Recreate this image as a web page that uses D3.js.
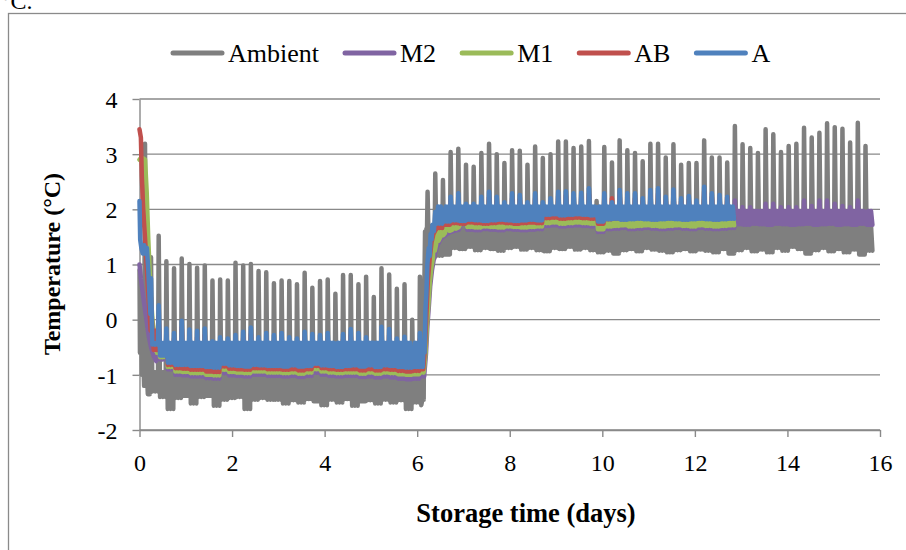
<!DOCTYPE html>
<html>
<head>
<meta charset="utf-8">
<script src="https://cdn.jsdelivr.net/npm/d3@7"></script>
<style>
  html, body { margin: 0; padding: 0; background: #fff; overflow: hidden; }
  text { font-family: "Liberation Serif", "Times New Roman", serif; fill: #000; }
</style>
</head>
<body>
<svg id="chart" width="906" height="550"></svg>
<script>
// ---------------- data ----------------
const seriesNames  = ["Ambient", "M2", "M1", "AB", "A"];
const seriesColors = ["#7f7f7f", "#8064a2", "#9bbb59", "#c0504d", "#4f81bd"];
const xTicks = [0, 2, 4, 6, 8, 10, 12, 14, 16];
const yTicks = [-2, -1, 0, 1, 2, 3, 4];

// logger cycles: one defrost peak every 4 h, first one at 0.2485 d
const cycleFirst = 0.2485;
const cycleDays  = 0.166;
const stepCycle  = 36;          // first cycle after the set-point change

// Ambient: per-cycle defrost peak and compressor low (°C)
const ambientPeak = [
  1.13, 1.52, 1.06, 0.93, 1.11, 1.01, 0.94, 0.98, 0.71, 0.73,
  0.71, 1.03, 0.98, 1.01, 0.88, 0.86, 0.66, 0.71, 0.70, 0.64,
  0.85, 0.58, 0.70, 0.73, 0.47, 0.81, 0.81, 0.64, 0.78, 0.41,
  0.93, 0.82, 0.56, 0.64, 0.00, 0.78, 2.32, 2.65, 2.53, 3.04,
  3.10, 2.81, 2.77, 3.02, 3.19, 3.00, 2.84, 3.07, 3.06, 2.81,
  3.14, 2.93, 3.00, 3.23, 3.23, 3.11, 3.14, 3.24, 2.15, 3.13,
  2.85, 3.25, 3.07, 3.02, 2.87, 3.19, 3.19, 2.94, 3.18, 2.81,
  2.84, 2.84, 3.25, 2.94, 2.94, 2.85, 3.51, 3.18, 3.11, 3.02,
  3.45, 3.36, 3.04, 3.15, 3.19, 3.48, 3.30, 3.39, 3.56, 3.49,
  3.46, 3.21, 3.57, 3.15
];
const ambientLow = [
  -1.30, -1.40, -1.62, -1.42, -1.38, -1.52, -1.40, -1.38, -1.56, -1.45,
  -1.42, -1.40, -1.62, -1.45, -1.42, -1.45, -1.45, -1.52, -1.46, -1.50,
  -1.44, -1.48, -1.55, -1.45, -1.50, -1.44, -1.56, -1.48, -1.46, -1.52,
  -1.45, -1.50, -1.46, -1.62, -1.50, -1.55, 1.12, 1.16, 1.18, 1.30,
  1.28, 1.32, 1.26, 1.30, 1.28, 1.25, 1.30, 1.32, 1.27, 1.30,
  1.26, 1.24, 1.30, 1.28, 1.32, 1.27, 1.30, 1.26, 1.22, 1.25,
  1.20, 1.26, 1.28, 1.24, 1.30, 1.27, 1.25, 1.22, 1.26, 1.28,
  1.24, 1.27, 1.25, 1.22, 1.28, 1.20, 1.26, 1.30, 1.24, 1.27,
  1.22, 1.30, 1.25, 1.32, 1.28, 1.20, 1.26, 1.30, 1.24, 1.28,
  1.22, 1.27, 1.18, 1.25
];
const ambientBand = [-0.95, 1.70];   // top of compressor swing (before / after change)
const ambientLead = [[0, 0.9], [0.01, -0.6], [0.03, 0.5], [0.05, -1.0], [0.08, -0.6], [0.10, -1.2],
                     [0.119, 3.19], [0.14, -1.2], [0.16, -0.95], [0.18, -1.35], [0.20, -0.95], [0.22, -1.35]];
const ambientStep = [[6.10, -1.50], [6.12, -0.95], [6.14, -1.45], [6.155, 0.6], [6.17, 1.6],
                     [6.185, 1.3], [6.20, 1.65], [6.21, 1.5]];

// M2
const m2Peak = [
  0.10, -0.20, -0.42, -0.46, -0.32, -0.44, -0.46, -0.42, -0.58, -0.54,
  -0.56, -0.50, -0.46, -0.40, -0.54, -0.48, -0.50, -0.48, -0.54, -0.56,
  -0.46, -0.48, -0.50, -0.48, -0.62, -0.48, -0.42, -0.48, -0.54, -0.60,
  -0.40, -0.42, -0.56, -0.54, -0.70, -0.48, null, null, null, null,
  null, 1.95, 1.95, 2.05, 2.10, 2.02, 1.98, 2.08, 2.06, 1.98,
  2.08, 1.98, 2.02, 2.10, 2.10, 2.08, 2.10, 2.14, 1.90, 2.08,
  2.00, 2.12, 2.08, 2.08, 2.02, 2.12, 2.14, 2.04, 2.14, 2.02,
  2.06, 2.00, 2.18, 2.10, 2.08, 2.06, 2.16, 2.04, 2.04, 1.97,
  2.10, 2.10, 2.04, 2.04, 2.04, 2.16, 2.06, 2.16, 2.16, 2.10,
  2.06, 2.04, 2.16, 1.95
];
const m2Low = [
  -0.60, -0.72, -0.90, -1.00, -1.01, -1.03, -1.03, -1.06, -1.07, -0.97,
  -1.01, -1.02, -1.03, -1.00, -1.00, -1.02, -1.02, -1.03, -1.02, -1.04,
  -1.02, -0.96, -1.00, -1.02, -1.03, -1.02, -1.02, -1.04, -1.03, -1.05,
  -1.03, -1.05, -1.07, -1.08, -1.07, -1.03, null, null, null, null,
  null, 1.63, 1.62, 1.64, 1.63, 1.62, 1.64, 1.63, 1.62, 1.63,
  1.64, 1.70, 1.71, 1.69, 1.70, 1.71, 1.70, 1.69, 1.59, 1.64,
  1.65, 1.66, 1.64, 1.65, 1.66, 1.65, 1.64, 1.65, 1.66, 1.65,
  1.64, 1.66, 1.65, 1.64, 1.65, 1.66, 1.73, 1.72, 1.74, 1.73,
  1.72, 1.74, 1.73, 1.72, 1.73, 1.74, 1.72, 1.73, 1.74, 1.72,
  1.73, 1.72, 1.74, 1.72
];
const m2Band = [-0.65, 1.97];
const m2Lead = [[0, 1.0], [0.03, 0.75], [0.06, 0.55], [0.10, 0.3], [0.15, 0.0], [0.20, -0.3],
                [0.25, -0.5], [0.30, -0.65], [0.36, -0.75]];
const m2Step = [[6.15, -1.03], [6.19, -0.62], [6.22, -0.12], [6.25, 0.22], [6.28, 0.60], [6.32, 0.90],
                [6.36, 1.10], [6.40, 1.25], [6.45, 1.37], [6.50, 1.45], [6.56, 1.50], [6.62, 1.54],
                [6.70, 1.58], [6.80, 1.61], [6.90, 1.63]];

// M1
const m1Peak = [
  0.20, -0.10, -0.35, -0.40, -0.25, -0.38, -0.40, -0.36, -0.52, -0.48,
  -0.50, -0.44, -0.40, -0.34, -0.48, -0.42, -0.45, -0.42, -0.48, -0.50,
  -0.40, -0.42, -0.45, -0.42, -0.58, -0.42, -0.36, -0.42, -0.48, -0.56,
  -0.34, -0.36, -0.50, -0.48, -0.66, -0.42, null, null, null, null,
  null, 1.98, 1.98, 2.08, 2.15, 2.08, 2.00, 2.12, 2.10, 2.00,
  2.12, 2.00, 2.06, 2.15, 2.16, 2.12, 2.14, 2.20, 1.92, 2.12,
  2.02, 2.18, 2.12, 2.12, 2.06, 2.18, 2.20, 2.08, 2.20, 2.06,
  2.10, 2.02, 2.24, 2.12, 2.10, 2.08
];
const m1Low = [
  -0.55, -0.68, -0.86, -0.94, -0.95, -0.97, -0.97, -1.00, -1.01, -0.91,
  -0.95, -0.96, -0.97, -0.94, -0.94, -0.96, -0.96, -0.97, -0.96, -0.98,
  -0.96, -0.90, -0.94, -0.96, -0.97, -0.96, -0.96, -0.98, -0.96, -0.98,
  -0.96, -0.97, -0.99, -1.00, -0.99, -0.96, null, null, null, null,
  null, 1.68, 1.67, 1.69, 1.68, 1.67, 1.69, 1.68, 1.67, 1.68,
  1.69, 1.75, 1.76, 1.74, 1.75, 1.76, 1.75, 1.74, 1.64, 1.69,
  1.70, 1.71, 1.69, 1.70, 1.71, 1.70, 1.69, 1.70, 1.71, 1.70,
  1.69, 1.71, 1.70, 1.69, 1.70, 1.71
];
const m1Band = [-0.60, 1.90];
const m1Lead = [[0, 2.90], [0.03, 2.93], [0.07, 2.93], [0.12, 2.90], [0.155, 2.32], [0.19, 1.45],
                [0.24, 0.50], [0.28, 0.00], [0.33, -0.35], [0.38, -0.60]];
const m1Step = [[6.14, -0.96], [6.18, -0.60], [6.21, -0.10], [6.24, 0.25], [6.27, 0.65], [6.30, 0.90],
                [6.34, 1.12], [6.36, 1.60], [6.38, 1.25], [6.41, 1.37], [6.43, 1.70], [6.46, 1.43],
                [6.50, 1.50], [6.53, 1.75], [6.56, 1.53], [6.60, 1.57], [6.66, 1.80], [6.70, 1.61],
                [6.76, 1.63], [6.80, 1.85], [6.84, 1.65], [6.90, 1.68]];

// AB
const abPeak = [
  0.40, 0.05, -0.28, -0.34, -0.14, -0.30, -0.32, -0.28, -0.48, -0.42,
  -0.44, -0.38, -0.33, -0.26, -0.42, -0.35, -0.38, -0.35, -0.42, -0.44,
  -0.33, -0.36, -0.38, -0.35, -0.52, -0.36, -0.28, -0.35, -0.42, -0.50,
  -0.25, -0.28, -0.44, -0.41, -0.60, -0.35, null, 1.90, 1.92, 2.15,
  2.20, 2.05, 2.05, 2.15, 2.22, 2.15, 2.08, 2.20, 2.18, 2.08,
  2.20, 2.08, 2.14, 2.24, 2.25, 2.20, 2.22, 2.28, 2.00, 2.20,
  2.20, 2.26, 2.20, 2.20, 2.14, 2.26, 2.28, 2.16, 2.27, 2.14,
  2.17, 2.10, 2.32, 2.22, 2.20, 2.22
];
const abLow = [
  -0.20, -0.60, -0.82, -0.88, -0.89, -0.91, -0.91, -0.94, -0.95, -0.85,
  -0.89, -0.90, -0.91, -0.88, -0.88, -0.90, -0.90, -0.91, -0.90, -0.92,
  -0.90, -0.84, -0.88, -0.90, -0.91, -0.90, -0.90, -0.92, -0.90, -0.92,
  -0.90, -0.91, -0.93, -0.94, -0.93, -0.90, null, 1.66, 1.72, 1.75,
  1.74, 1.76, 1.75, 1.74, 1.75, 1.76, 1.75, 1.74, 1.75, 1.76,
  1.75, 1.84, 1.85, 1.83, 1.84, 1.85, 1.84, 1.83, 1.74, 1.82,
  1.83, 1.82, 1.83, 1.84, 1.83, 1.82, 1.83, 1.84, 1.83, 1.82,
  1.83, 1.84, 1.83, 1.82, 1.83, 1.84
];
const abBand = [-0.55, 1.95];
const abLead = [[0, 3.45], [0.03, 3.30], [0.05, 2.60], [0.08, 2.00], [0.11, 1.60], [0.14, 1.20],
                [0.18, 0.60], [0.22, 0.10], [0.24, -0.20]];
const abStep = [[6.13, -0.90], [6.17, -0.50], [6.20, 0.10], [6.23, 0.70], [6.27, 1.10], [6.31, 1.40],
                [6.35, 1.55], [6.40, 1.63], [6.45, 1.68]];

// A
const aPeak = [
  0.75, 0.26, -0.16, -0.24, -0.02, -0.18, -0.20, -0.16, -0.39, -0.32,
  -0.34, -0.28, -0.22, -0.14, -0.32, -0.24, -0.28, -0.24, -0.32, -0.34,
  -0.22, -0.26, -0.28, -0.24, -0.43, -0.26, -0.17, -0.24, -0.32, -0.42,
  -0.13, -0.17, -0.34, -0.31, -0.52, -0.24, null, 1.95, 1.98, 2.23,
  2.29, 2.10, 2.10, 2.23, 2.32, 2.23, 2.13, 2.29, 2.26, 2.13,
  2.29, 2.13, 2.20, 2.32, 2.33, 2.29, 2.30, 2.38, 2.04, 2.29,
  2.13, 2.35, 2.29, 2.29, 2.20, 2.35, 2.38, 2.23, 2.36, 2.20,
  2.24, 2.16, 2.41, 2.29, 2.26, 2.23
];
const aLow = [
  -0.45, -0.65, -0.78, -0.82, -0.82, -0.84, -0.84, -0.86, -0.87, -0.80,
  -0.83, -0.84, -0.85, -0.82, -0.83, -0.84, -0.84, -0.85, -0.83, -0.85,
  -0.84, -0.80, -0.83, -0.84, -0.86, -0.84, -0.83, -0.85, -0.83, -0.86,
  -0.83, -0.84, -0.86, -0.87, -0.86, -0.84, null, 1.74, 1.78, 1.80,
  1.79, 1.81, 1.80, 1.79, 1.80, 1.81, 1.80, 1.79, 1.80, 1.81,
  1.80, 1.90, 1.91, 1.89, 1.90, 1.91, 1.90, 1.89, 1.78, 1.82,
  1.83, 1.81, 1.82, 1.83, 1.82, 1.81, 1.82, 1.83, 1.82, 1.81,
  1.82, 1.83, 1.82, 1.81, 1.82, 1.83
];
const aBand = [-0.42, 2.05];
const aLead = [[0, 2.15], [0.015, 1.45], [0.04, 1.30], [0.07, 1.20], [0.10, 1.35], [0.13, 1.20],
               [0.16, 1.30], [0.19, 0.90], [0.215, 0.45], [0.235, 0.10]];
const aStep = [[6.12, -0.86], [6.14, -0.40], [6.16, -0.60], [6.18, 0.20], [6.20, 0.50], [6.22, 1.00],
               [6.25, 1.30], [6.27, 1.15], [6.29, 1.55], [6.31, 1.45], [6.33, 1.72], [6.36, 1.60]];

// ---------------- build series ----------------
// within each 4-h cycle: defrost peak, then the compressor swing between low and band top
const subSteps = [0, 0.18, 0.36, 0.54, 0.72, 0.9];

function buildSeries(peak, low, band, segments) {
  const pts = [];
  peak.forEach((p, k) => {
    const lo = low[k];
    if (p == null || lo == null) return;
    const t0 = cycleFirst + k * cycleDays;
    const b = band[k < stepCycle ? 0 : 1];
    const vals = [p, lo, b, lo, b, lo];
    subSteps.forEach((f, i) => pts.push([t0 + f * cycleDays, vals[i]]));
  });
  let out = pts.filter(([t]) => !segments.some(s => t >= s[0][0] && t <= s[s.length - 1][0]));
  segments.forEach(s => { out = out.concat(s); });
  out.sort((a, b) => a[0] - b[0]);
  return out;
}

const series = [
  buildSeries(ambientPeak, ambientLow, ambientBand, [ambientLead, ambientStep]),
  buildSeries(m2Peak, m2Low, m2Band, [m2Lead, m2Step]),
  buildSeries(m1Peak, m1Low, m1Band, [m1Lead, m1Step]),
  buildSeries(abPeak, abLow, abBand, [abLead, abStep]),
  buildSeries(aPeak, aLow, aBand, [aLead, aStep])
];

// ---------------- drawing ----------------
const svg = d3.select("#chart");
const gridColor = "#898989";
const serif = "'Liberation Serif', 'Times New Roman', serif";

// outer chart frame
svg.append("rect")
  .attr("x", 8.5).attr("y", 13.5).attr("width", 1000).attr("height", 700)
  .attr("fill", "none").attr("stroke", "#8a8a8a").attr("stroke-width", 1.3);

// caption fragment above the frame
svg.append("text").attr("x", 1).attr("y", 9)
  .style("font-size", "24px").text("°C.");

const x = d3.scaleLinear().domain([0, 16]).range([139.5, 880]);
const y = d3.scaleLinear().domain([-2, 4]).range([430, 99]);

// horizontal gridlines
svg.append("g").selectAll("line").data(yTicks).join("line")
  .attr("x1", x(0)).attr("x2", x(16))
  .attr("y1", d => y(d)).attr("y2", d => y(d))
  .attr("stroke", gridColor).attr("stroke-width", 1.4);

// y axis
const yAxis = svg.append("g").attr("transform", `translate(${x(0)},0)`)
  .attr("font-family", null)
  .call(d3.axisLeft(y).tickValues(yTicks).tickSize(7).tickSizeOuter(0).tickFormat(d3.format("d")));
yAxis.attr("font-family", serif);
yAxis.select(".domain").attr("stroke", gridColor).attr("stroke-width", 1.4);
yAxis.selectAll(".tick line").attr("stroke", gridColor).attr("stroke-width", 1.4);
yAxis.selectAll(".tick text")
  .attr("x", -22).attr("dy", "0.34em")
  .style("font-family", serif)
  .style("font-size", "24px").attr("fill", "#000")
  .text(d => d < 0 ? "-" + Math.abs(d) : d);

// x axis
const xAxis = svg.append("g").attr("transform", `translate(0,${y(-2)})`)
  .call(d3.axisBottom(x).tickValues(xTicks).tickSize(7).tickSizeOuter(0).tickFormat(d3.format("d")));
xAxis.attr("font-family", serif);
xAxis.select(".domain").attr("stroke", gridColor).attr("stroke-width", 1.4);
xAxis.selectAll(".tick line").attr("stroke", gridColor).attr("stroke-width", 1.4);
xAxis.selectAll(".tick text")
  .attr("y", 41).attr("dy", 0)
  .style("font-family", serif)
  .style("font-size", "24px").attr("fill", "#000");

// series lines (Ambient underneath, A on top)
const line = d3.line().x(d => x(d[0])).y(d => y(d[1]));
svg.append("g").selectAll("path").data(series).join("path")
  .attr("d", line)
  .attr("fill", "none")
  .attr("stroke", (d, i) => seriesColors[i])
  .attr("stroke-width", 4.5)
  .attr("stroke-linejoin", "round")
  .attr("stroke-linecap", "round");

// axis titles
svg.append("text")
  .attr("transform", "translate(60,264) rotate(-90)")
  .attr("text-anchor", "middle")
  .style("font-size", "24px").style("font-weight", "bold")
  .text("Temperature (°C)");
svg.append("text")
  .attr("x", 526).attr("y", 522)
  .attr("text-anchor", "middle")
  .style("font-size", "26.5px").style("font-weight", "bold")
  .text("Storage time (days)");

// legend
const legend = svg.append("g");
let lx = 171;
const ly = 53;
seriesNames.forEach((name, i) => {
  legend.append("line")
    .attr("x1", lx + 2).attr("x2", lx + 51).attr("y1", ly).attr("y2", ly)
    .attr("stroke", seriesColors[i]).attr("stroke-width", 5).attr("stroke-linecap", "round");
  const t = legend.append("text").attr("x", lx + 57).attr("y", ly + 9)
    .style("font-size", "26px").text(name);
  lx += 57 + t.node().getComputedTextLength() + 24;
});
</script>
</body>
</html>
